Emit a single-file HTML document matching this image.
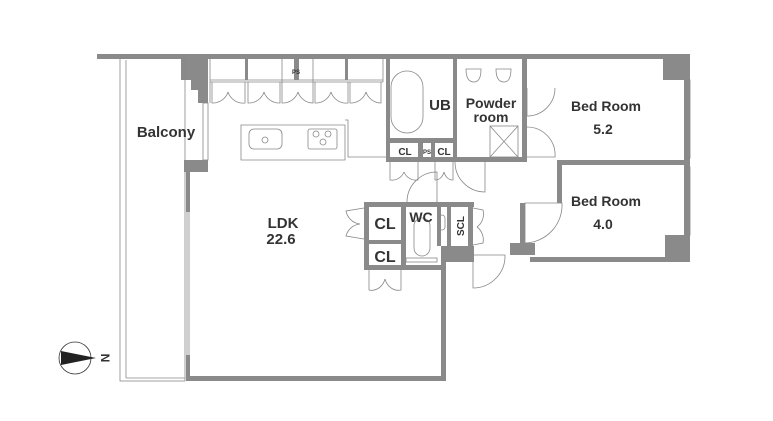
<!DOCTYPE html>
<html><head><style>
body{margin:0;background:#fff}
svg{display:block}
text{font-family:"Liberation Sans",Arial,sans-serif;font-weight:bold;fill:#333}
</style></head><body>
<svg width="773" height="421" viewBox="0 0 773 421">
<g fill="#8a8a8a">
<rect x="97" y="54" width="593" height="5"/>
<polygon points="181,58 208,58 208,103 198,103 198,90 191,90 191,80 181,80"/>
<polygon points="184,160 208,160 208,172 190,172 190,212 186,212 186,172 184,172"/>
<rect x="186" y="355" width="4" height="25"/>
<rect x="186" y="376" width="260" height="5"/>
<rect x="441" y="262" width="5" height="119"/>
<rect x="386" y="58" width="4" height="104"/>
<rect x="386" y="138" width="70" height="5"/>
<rect x="386" y="157" width="140" height="5"/>
<rect x="418" y="143" width="5" height="15"/>
<rect x="431" y="143" width="4" height="15"/>
<rect x="453" y="58" width="4" height="104"/>
<rect x="522" y="58" width="5" height="104"/>
<rect x="663" y="58" width="27" height="22"/>
<rect x="684" y="54" width="6" height="208"/>
<rect x="557" y="160" width="133" height="5"/>
<rect x="557" y="160" width="5" height="43"/>
<rect x="520" y="203" width="5" height="40"/>
<rect x="510" y="243" width="25" height="12"/>
<rect x="530" y="257" width="160" height="5"/>
<rect x="665" y="235" width="25" height="27"/>
<rect x="364" y="202" width="110" height="5"/>
<rect x="364" y="202" width="5" height="68"/>
<rect x="364" y="265" width="82" height="5"/>
<rect x="364" y="240" width="40" height="4"/>
<rect x="401" y="202" width="5" height="68"/>
<rect x="437" y="207" width="4" height="39"/>
<rect x="447" y="207" width="4" height="39"/>
<rect x="468" y="207" width="5" height="39"/>
<rect x="441" y="246" width="33" height="16"/>
<rect x="294" y="58" width="5" height="22"/>
<rect x="245" y="58" width="3" height="22"/>
<rect x="345" y="58" width="3" height="22"/>
</g>
<g fill="none" stroke="#888" stroke-width="0.8">
<rect x="120" y="58" width="65" height="323"/>
<line x1="126" y1="60" x2="126" y2="378"/>
<line x1="126" y1="378" x2="185" y2="378"/>
<rect x="203" y="103" width="5" height="57"/>
<line x1="187" y1="212" x2="187" y2="355"/><line x1="189" y1="212" x2="189" y2="355"/>
<line x1="210" y1="58" x2="210" y2="103"/><line x1="383" y1="58" x2="383" y2="82"/>
<line x1="282" y1="58" x2="282" y2="82"/><line x1="313" y1="58" x2="313" y2="82"/>
<line x1="210" y1="82" x2="383" y2="82"/><line x1="210" y1="80" x2="383" y2="80"/>
<path d="M212 82 V103 A16 16 0 0 0 228 92 M245 82 V103 A16 16 0 0 1 228 92 M248 82 V103 A16 16 0 0 0 264 92 M280 82 V103 A16 16 0 0 1 264 92 M282 82 V103 A16 16 0 0 0 298 92 M313 82 V103 A16 16 0 0 1 298 92 M315 82 V103 A16 16 0 0 0 331 92 M348 82 V103 A16 16 0 0 1 331 92 M350 82 V103 A16 16 0 0 0 366 92 M381 82 V103 A16 16 0 0 1 366 92"/>
<path d="M241 125 H345 V160 H241 Z"/>
<path d="M345 120 H348 V157 H386"/>
<rect x="249" y="129" width="33" height="20" rx="5"/><circle cx="265" cy="140" r="3"/>
<rect x="308" y="129" width="29" height="20" rx="2"/>
<circle cx="316" cy="134" r="3"/><circle cx="328" cy="134" r="3"/><circle cx="323" cy="142" r="3"/>
<rect x="391" y="71" width="32" height="62" rx="16"/>
<path d="M390 162 V180 A13 14 0 0 0 404 172 M418 162 V180 A13 14 0 0 1 404 172 M435 162 V180 A9 12 0 0 0 444 172 M453 162 V180 A9 12 0 0 1 444 172"/>
<path d="M407 202 A30 30 0 0 1 437 172 V202"/>
<path d="M455 162 A30 30 0 0 0 485 192 V162"/>
<rect x="490" y="126" width="28" height="31"/><path d="M490 126 L518 157 M518 126 L490 157"/>
<path d="M466 69 q0 13 8 13 q7 0 7 -13 Z M496 69 q0 13 8 13 q7 0 7 -13 Z"/>
<rect x="523" y="88" width="3" height="28"/>
<path d="M527 88 V116 A28 28 0 0 0 555 88 M527 127 A28 28 0 0 1 555 157 H527"/>
<path d="M525 203 V243 A38 38 0 0 0 562 203 Z"/>
<path d="M473 262 V288 A32 32 0 0 0 505 255 H473"/>
<path d="M364 208 L346 211 A16 16 0 0 0 360 224 M364 239 L346 236 A16 16 0 0 1 360 224"/>
<path d="M369 270 V290 A14 16 0 0 0 385 279 M401 270 V290 A14 16 0 0 1 385 279"/>
<path d="M473 208 L483 210 A16 16 0 0 1 477 227 M473 245 L483 243 A16 16 0 0 0 477 227"/>
<rect x="414" y="218" width="16" height="38" rx="8"/>
<rect x="439" y="215" width="6" height="15" rx="3"/>
<rect x="406" y="258" width="31" height="4"/>
<rect x="686" y="80" width="4" height="78" /><rect x="686" y="167" width="4" height="68"/>
<circle cx="75" cy="358" r="16" stroke="#333"/>
</g>
<polygon points="61,351 96,358 61,365" fill="#222"/>
<text x="101" y="358" font-size="12" transform="rotate(90 101 358)" text-anchor="middle" fill="#222">N</text>
<text x="296" y="74" font-size="6" text-anchor="middle">PS</text>
<text x="427" y="154" font-size="6" text-anchor="middle">PS</text>
<text x="166" y="137" font-size="15" text-anchor="middle">Balcony</text>
<text x="283" y="228" font-size="15" text-anchor="middle">LDK</text>
<text x="281" y="244" font-size="15" text-anchor="middle">22.6</text>
<text x="440" y="110" font-size="15" text-anchor="middle">UB</text>
<text x="491" y="108" font-size="14" text-anchor="middle">Powder</text>
<text x="491" y="122" font-size="14" text-anchor="middle">room</text>
<text x="606" y="111" font-size="14" text-anchor="middle">Bed Room</text>
<text x="603" y="134" font-size="14" text-anchor="middle">5.2</text>
<text x="606" y="206" font-size="14" text-anchor="middle">Bed Room</text>
<text x="603" y="229" font-size="14" text-anchor="middle">4.0</text>
<text x="405" y="155" font-size="10" text-anchor="middle">CL</text>
<text x="444" y="155" font-size="10" text-anchor="middle">CL</text>
<text x="385" y="229" font-size="16" text-anchor="middle">CL</text>
<text x="385" y="262" font-size="16" text-anchor="middle">CL</text>
<text x="421" y="222" font-size="14" text-anchor="middle">WC</text>
<text x="461" y="226" font-size="10" text-anchor="middle" transform="rotate(-90 461 226)" dy="3">SCL</text>
</svg>
</body></html>
